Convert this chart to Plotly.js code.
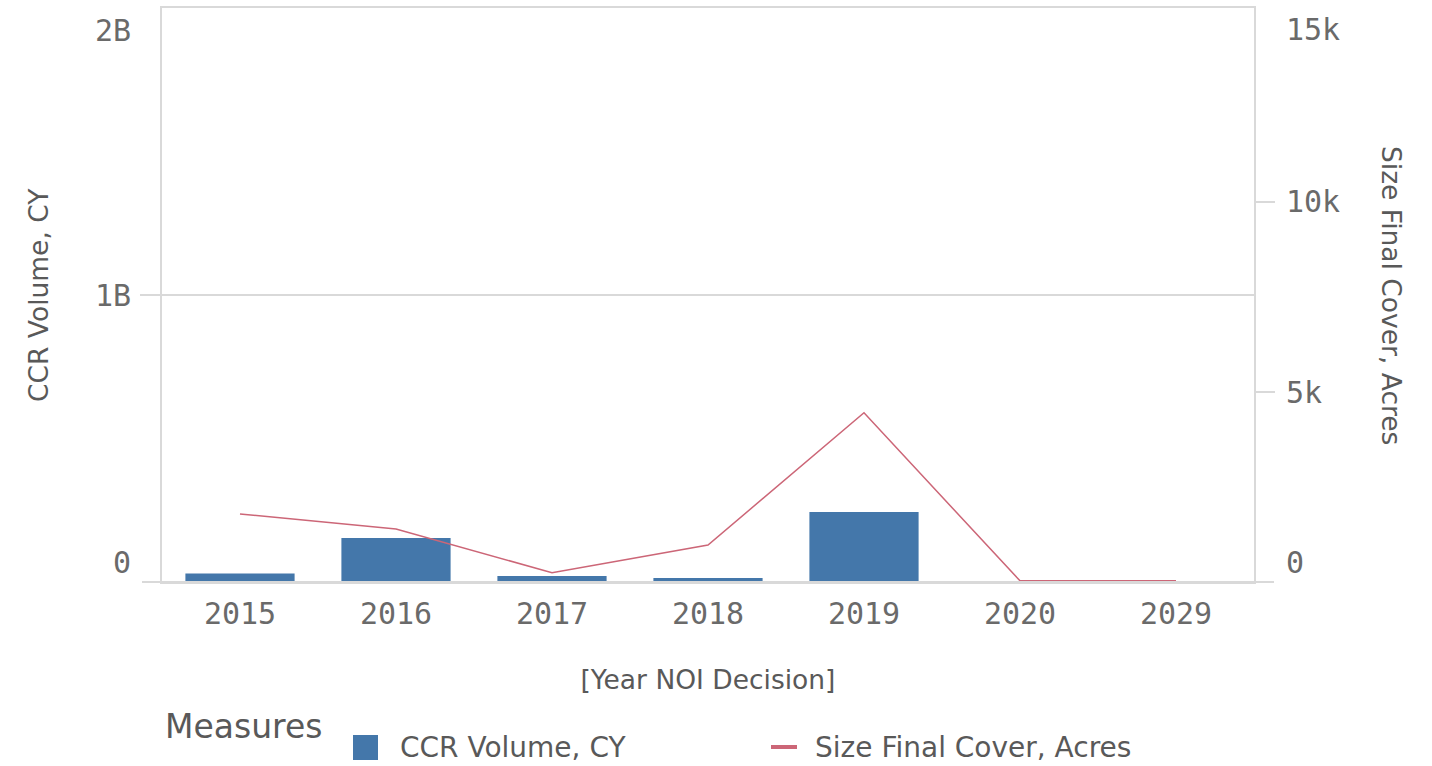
<!DOCTYPE html>
<html>
<head>
<meta charset="utf-8">
<script src="https://cdn.plot.ly/plotly-3.0.1.min.js"></script>
<style>html,body{margin:0;padding:0;background:#fff;}#chart{width:1432px;height:766px;}</style>
</head>
<body>
<div id="chart"></div>
<script>
// ---- data ----
const categories = ['2015', '2016', '2017', '2018', '2019', '2020', '2029'];
const ccrVolume = [30e6, 153e6, 21e6, 14e6, 244e6, 0, 0];
const finalCoverAcres = [1790, 1395, 245, 973, 4453, 30, 30];
const seriesNames = ['CCR Volume, CY', 'Size Final Cover, Acres'];
const leftTickVals = [0, 1e9, 2e9];
const leftTickText = ['0', '1B', '2B'];
const rightTickVals = [0, 5000, 10000, 15000];
const rightTickText = ['0', '5k', '10k', '15k'];
const xTitle = '[Year NOI Decision]';
const leftTitle = 'CCR Volume, CY';
const rightTitle = 'Size Final Cover, Acres';
const legendTitle = 'Measures';

// ---- style / geometry ----
const W = 1432, H = 766;
const M = {l: 162, r: 178, t: 8, b: 184};
const PW = W - M.l - M.r, PH = H - M.t - M.b;
const leftMax = 2e9, rightMax = 15105;
const grey = '#d9d9d9';
const txt = '#595959';
const tickTxt = '#6a6a6a';
const mono = 'DejaVu Sans Mono, monospace';
const sans = 'DejaVu Sans, sans-serif';
const barColor = '#4477aa', lineColor = '#cc6677';
const px = x => (x - M.l) / PW;
const py = y => (M.t + PH - y) / PH;

const traces = [
  {type: 'bar', name: seriesNames[0], x: categories, y: ccrVolume,
   marker: {color: barColor}, yaxis: 'y', hoverinfo: 'x+y'},
  {type: 'scatter', mode: 'lines', name: seriesNames[1], x: categories, y: finalCoverAcres,
   line: {color: lineColor, width: 1.5}, yaxis: 'y2', hoverinfo: 'x+y'}
];

const annotations = [];
leftTickVals.forEach((v, i) => {
  annotations.push({xref: 'paper', yref: 'y', x: 0, y: v, text: leftTickText[i],
    showarrow: false, xanchor: 'right', xshift: -29,
    yanchor: v === 0 ? 'bottom' : (v >= leftMax ? 'top' : 'middle'),
    yshift: v >= leftMax ? -3 : 0,
    font: {family: mono, size: 30, color: tickTxt}});
});
rightTickVals.forEach((v, i) => {
  annotations.push({xref: 'paper', yref: 'y2', x: 1, y: v, text: rightTickText[i],
    showarrow: false, xanchor: 'left', xshift: 30,
    yanchor: v === 0 ? 'bottom' : (v + 1000 > rightMax ? 'top' : 'middle'),
    yshift: v + 1000 > rightMax ? 2 : 0,
    font: {family: mono, size: 30, color: tickTxt}});
});
annotations.push({xref: 'paper', yref: 'paper', x: 0, y: 0.5, xshift: -124, text: leftTitle,
  textangle: -90, showarrow: false, xanchor: 'center', yanchor: 'middle',
  font: {family: sans, size: 26.5, color: txt}});
annotations.push({xref: 'paper', yref: 'paper', x: 1, y: 0.5, xshift: 138, text: rightTitle,
  textangle: 90, showarrow: false, xanchor: 'center', yanchor: 'middle',
  font: {family: sans, size: 26.5, color: txt}});
// legend (manual)
annotations.push({xref: 'paper', yref: 'paper', x: px(163), y: py(726), text: legendTitle,
  showarrow: false, xanchor: 'left', yanchor: 'middle', font: {family: sans, size: 33, color: txt}});
annotations.push({xref: 'paper', yref: 'paper', x: px(398), y: py(747), text: seriesNames[0],
  showarrow: false, xanchor: 'left', yanchor: 'middle', font: {family: sans, size: 28, color: txt}});
annotations.push({xref: 'paper', yref: 'paper', x: px(813), y: py(747), text: seriesNames[1],
  showarrow: false, xanchor: 'left', yanchor: 'middle', font: {family: sans, size: 28, color: txt}});

const shapes = [
  // baseline extending beyond plot
  {type: 'line', xref: 'paper', yref: 'paper', x0: px(142), x1: px(1274), y0: 0, y1: 0,
   line: {color: grey, width: 2}},
  // legend swatches
  {type: 'rect', xref: 'paper', yref: 'paper', x0: px(353), x1: px(378), y0: py(760), y1: py(735),
   fillcolor: barColor, line: {width: 0}},
  {type: 'line', xref: 'paper', yref: 'paper', x0: px(771), x1: px(797), y0: py(747), y1: py(747),
   line: {color: lineColor, width: 4}}
];

const layout = {
  width: W, height: H, margin: M,
  paper_bgcolor: '#fff', plot_bgcolor: '#fff',
  showlegend: false, bargap: 0.3,
  xaxis: {type: 'category', categoryorder: 'array', categoryarray: categories,
    showline: true, mirror: true, linecolor: grey, linewidth: 2,
    showgrid: false, zeroline: false, ticks: '', ticklabelstandoff: 4,
    tickfont: {family: mono, size: 30, color: tickTxt},
    title: {text: xTitle, font: {family: sans, size: 26.5, color: txt}, standoff: 40}},
  yaxis: {range: [0, leftMax], tickvals: leftTickVals.filter(v => v > 0 && v < leftMax),
    showticklabels: false, ticks: 'outside', ticklen: 20, tickwidth: 2, tickcolor: grey,
    showgrid: true, gridcolor: grey, gridwidth: 2,
    showline: true, linecolor: grey, linewidth: 2, zeroline: false},
  yaxis2: {overlaying: 'y', side: 'right', range: [0, rightMax],
    tickvals: rightTickVals.filter(v => v > 0 && v < rightMax - 1000),
    showticklabels: false, ticks: 'outside', ticklen: 19, tickwidth: 2, tickcolor: grey,
    showgrid: false, showline: true, linecolor: grey, linewidth: 2, zeroline: false},
  annotations: annotations,
  shapes: shapes
};

Plotly.newPlot('chart', traces, layout, {staticPlot: true});
</script>
</body>
</html>
